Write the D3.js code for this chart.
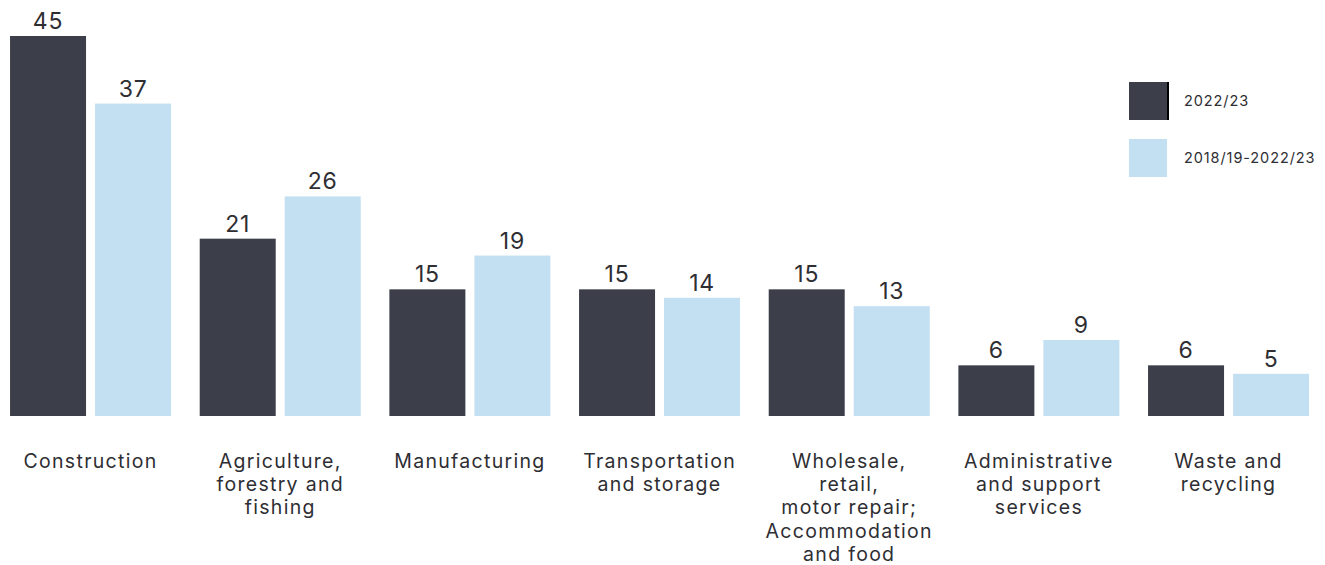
<!DOCTYPE html>
<html>
<head>
<meta charset="utf-8">
<script src="https://cdn.jsdelivr.net/npm/d3@7"></script>
<style>
  body { margin: 0; background: #fff; }
  svg text { font-family: Inter, "Noto Sans", sans-serif; fill: #2e2e33; }
  .val { font-size: 23px; letter-spacing: 0.8px; }
  .cat text { font-size: 19.5px; letter-spacing: 1.3px; }
  .legend text { font-size: 14.5px; letter-spacing: 0.9px; }
</style>
</head>
<body>
<div id="chart"></div>
<script>
// data
var categories = [
  "Construction",
  "Agriculture, forestry and fishing",
  "Manufacturing",
  "Transportation and storage",
  "Wholesale, retail, motor repair; Accommodation and food",
  "Administrative and support services",
  "Waste and recycling"
];
var labelLines = [
  ["Construction"],
  ["Agriculture,", "forestry and", "fishing"],
  ["Manufacturing"],
  ["Transportation", "and storage"],
  ["Wholesale,", "retail,", "motor repair;", "Accommodation", "and food"],
  ["Administrative", "and support", "services"],
  ["Waste and", "recycling"]
];
var seriesNames = ["2022/23", "2018/19-2022/23"];
var values2022 = [45, 21, 15, 15, 15, 6, 6];
var valuesAvg = [37, 26, 19, 14, 13, 9, 5];

var colors = ["#3c3f4a", "#c3dff2"];

var W = 1325, H = 565;
var svg = d3.select("#chart").append("svg")
    .attr("width", W)
    .attr("height", H);

var x0 = d3.scaleBand()
    .domain(categories)
    .range([-4.3, 1323.4])
    .paddingInner(0.1511)
    .paddingOuter(0.0756);

var x1 = d3.scaleBand()
    .domain(seriesNames)
    .range([0, x0.bandwidth()])
    .paddingInner(0.106);

var y = d3.scaleLinear()
    .domain([0, 45])
    .range([416, 36]);

var rows = categories.map(function(c, i){
  return { cat: c, vals: [
    { key: seriesNames[0], v: values2022[i] },
    { key: seriesNames[1], v: valuesAvg[i] }
  ]};
});

var color = d3.scaleOrdinal().domain(seriesNames).range(colors);

var group = svg.selectAll(".grp")
  .data(rows)
  .enter().append("g")
    .attr("class", "grp")
    .attr("transform", function(d){ return "translate(" + x0(d.cat) + ",0)"; });

group.selectAll("rect")
  .data(function(d){ return d.vals; })
  .enter().append("rect")
    .attr("x", function(d){ return x1(d.key); })
    .attr("y", function(d){ return y(d.v); })
    .attr("width", x1.bandwidth())
    .attr("height", function(d){ return y(0) - y(d.v); })
    .attr("fill", function(d){ return color(d.key); });

group.selectAll(".val")
  .data(function(d){ return d.vals; })
  .enter().append("text")
    .attr("class", "val")
    .attr("x", function(d){ return x1(d.key) + x1.bandwidth() / 2; })
    .attr("y", function(d){ return y(d.v) - 7; })
    .attr("text-anchor", "middle")
    .text(function(d){ return d.v; });

// category axis, multi-line labels
var axis = svg.append("g")
    .attr("class", "cat")
    .attr("transform", "translate(0,416)")
    .call(d3.axisBottom(x0).tickSize(0).tickPadding(0));
axis.select(".domain").remove();
axis.selectAll(".tick text").each(function(d){
  var t = d3.select(this).text("").attr("y", 52).attr("dy", null);
  var lines = labelLines[categories.indexOf(d)];
  lines.forEach(function(l, i){
    t.append("tspan")
      .attr("x", 0)
      .attr("dy", i === 0 ? 0 : 23.2)
      .text(l);
  });
});

// legend
var legend = svg.append("g").attr("class", "legend")
    .attr("transform", "translate(1129,82)");
var li = legend.selectAll("g")
  .data(seriesNames)
  .enter().append("g")
    .attr("transform", function(d, i){ return "translate(0," + (i * 57) + ")"; });
li.append("rect")
    .attr("width", 38)
    .attr("height", 38)
    .attr("fill", function(d){ return color(d); });
li.filter(function(d, i){ return i === 0; }).append("rect")
    .attr("x", 38)
    .attr("width", 2)
    .attr("height", 38)
    .attr("fill", "#000");
li.append("text")
    .attr("x", 55)
    .attr("y", 19)
    .attr("dy", "0.35em")
    .text(function(d){ return d; });
</script>
</body>
</html>
